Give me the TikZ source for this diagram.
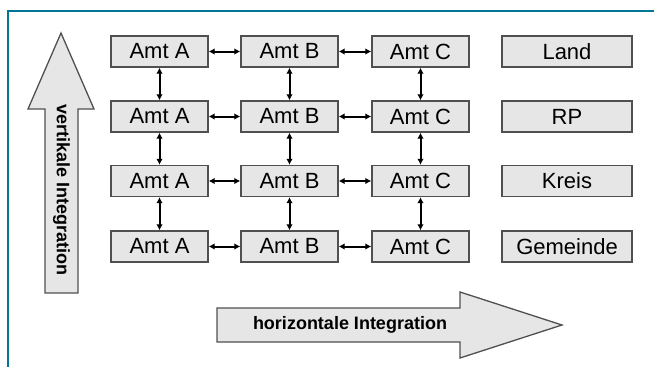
\documentclass[tikz,border=0pt]{standalone}
\usepackage{fontspec}
\setmainfont{Liberation Sans}
\usetikzlibrary{arrows.meta}
\definecolor{framecolor}{RGB}{0,118,150}
\definecolor{boxfill}{RGB}{230,230,230}
\definecolor{boxdraw}{RGB}{80,80,80}
\tikzset{
  amt/.style={draw=boxdraw, line width=1.3pt, fill=boxfill, inner sep=0pt,
    minimum width=97pt, minimum height=31pt, font=\fontsize{22}{24}\selectfont},
  ebene/.style={amt, minimum width=130pt},
  link/.style={{Latex[length=6pt,width=6.5pt]}-{Latex[length=6pt,width=6.5pt]},
    line width=2pt, black},
  bigarrow/.style={draw=boxdraw, line width=1.3pt, fill=boxfill, line join=miter},
  arrowtext/.style={font=\bfseries\fontsize{18}{20}\selectfont},
}

\begin{document}
\begin{tikzpicture}[x=1pt, y=-1pt]
\useasboundingbox (0,0) rectangle (654,367);

% frame (top and left edge only)
\draw[framecolor, line width=2pt] (8,367) -- (8,11) -- (654,11);

%% == BIG ARROWS ==============================================================
% vertical
\draw[bigarrow] (45,293) -- (45,109) -- (28,109) -- (61,33) -- (94,109)
  -- (78,109) -- (78,293) -- cycle;
\node[arrowtext, rotate=-90] (vert) at (61.5,190) {vertikale Integration};

% horizontal
\draw[bigarrow] (217,308) -- (460,308) -- (460,292) -- (562,325)
  -- (460,358) -- (460,342) -- (217,342) -- cycle;
\node[arrowtext] (horiz) at (350,325) {horizontale Integration};

%% == AEMTER ==================================================================
\foreach \y/\r/\lvl in {51.5/1/Land, 116.5/2/RP, 181/3/Kreis, 246.5/4/Gemeinde} {
  \node[amt]   (a\r) at (159.5,\y) {Amt A};
  \node[amt]   (b\r) at (289.5,\y) {Amt B};
  \node[amt]   (c\r) at (420.5,\y) {Amt C};
  \node[ebene] (e\r) at (567,\y)   {\lvl};
}

% horizontal links
\foreach \r in {1,...,4} {
  \draw[link] (a\r) -- (b\r);
  \draw[link] (b\r) -- (c\r);
}

% vertical links
\foreach \r/\s in {1/2, 2/3, 3/4} {
  \draw[link] (a\r) -- (a\s);
  \draw[link] (b\r) -- (b\s);
  \draw[link] (c\r) -- (c\s);
}
\end{tikzpicture}
\end{document}
